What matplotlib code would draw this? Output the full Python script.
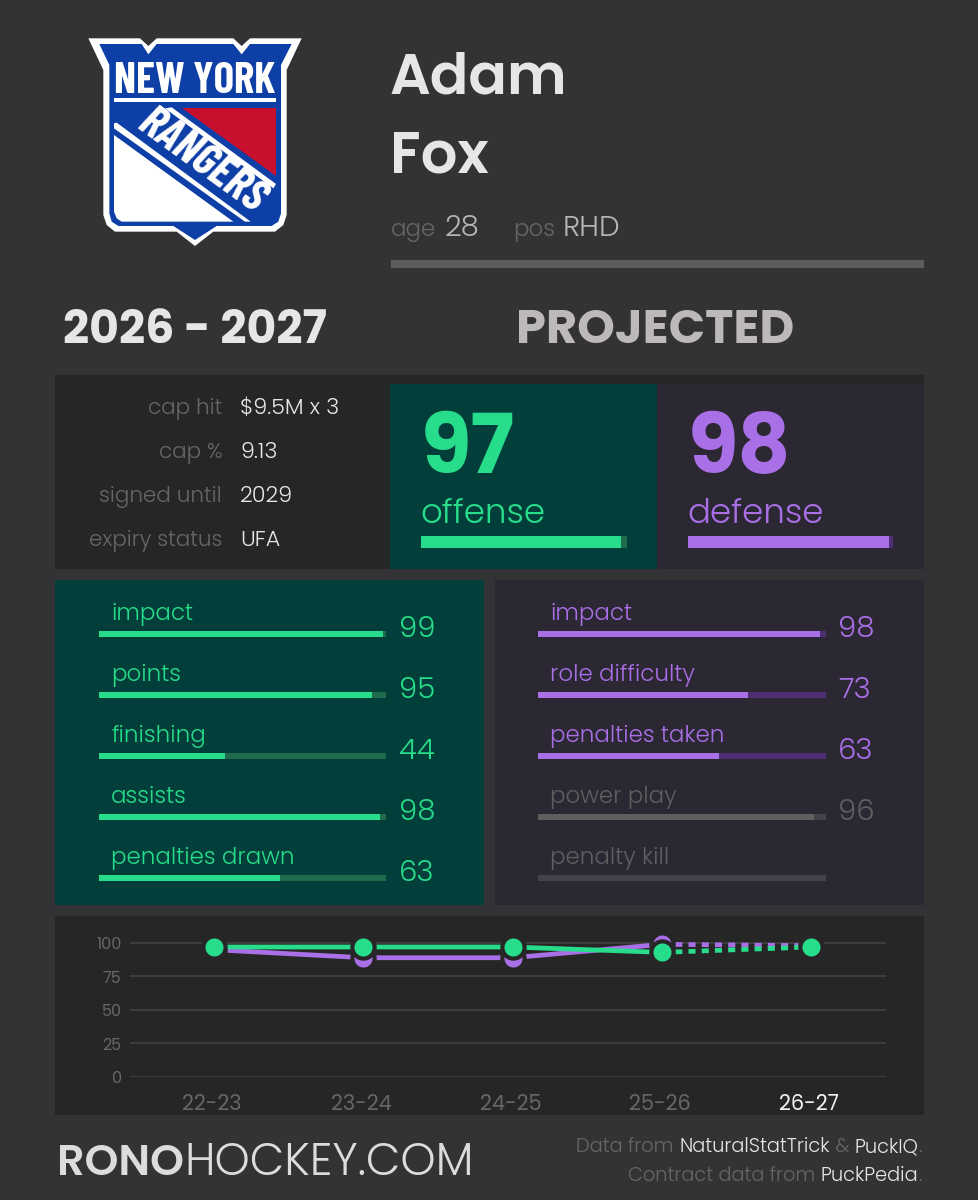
import matplotlib
matplotlib.use("Agg")
import matplotlib.pyplot as plt
from matplotlib.patches import Polygon, Rectangle
from matplotlib.transforms import ScaledTranslation

plt.rcParams["font.family"] = ["Poppins", "Inter", "DejaVu Sans"]
LOGO_FONT = ["Barlow Condensed", "Liberation Sans Narrow", "Inter"]

W, H = 978, 1200
BG = "#333336"
DARK = "#262626"
OFF_BG = "#023f3a"
DEF_BG = "#2b2733"
GREEN = "#27dc8a"
PURPLE = "#a96fe6"
GREY = "#666666"
LIGHT = "#e6e6e6"

first_name = "Adam"
last_name = "Fox"
age = "28"
position = "RHD"
season = "2026 - 2027"
status = "PROJECTED"

contract_labels = ["cap hit", "cap %", "signed until", "expiry status"]
contract_values = ["$9.5M x 3", "9.13", "2029", "UFA"]

offense_total = 97
defense_total = 98

offense_labels = ["impact", "points", "finishing", "assists", "penalties drawn"]
offense_values = [99, 95, 44, 98, 63]
defense_labels = ["impact", "role difficulty", "penalties taken", "power play", "penalty kill"]
defense_values = [98, 73, 63, 96, None]

seasons = ["22-23", "23-24", "24-25", "25-26", "26-27"]
offense_trend = [97, 97, 97, 93, 97]
defense_trend = [95, 89, 89, 99, 98]
y_ticks = [0, 25, 50, 75, 100]

fig = plt.figure(figsize=((W + 0.01) / 100, (H + 0.01) / 100), dpi=100, facecolor=BG)
bg = fig.add_axes([0, 0, 1, 1])
bg.set_xlim(0, W)
bg.set_ylim(H, 0)
bg.axis("off")


def panel(x0, y0, x1, y1, color):
    bg.add_patch(Rectangle((x0, y0), x1 - x0, y1 - y0, color=color, lw=0))


def label(x, y, s, color, size, weight=300, ha="left", va="center", **kw):
    return bg.text(x, y, s, color=color, fontsize=size, fontweight=weight, ha=ha, va=va, **kw)


def meter(x0, y0, x1, y1, value, color, track):
    # each meter is its own little 0-100 axes
    ax = fig.add_axes([x0 / W, 1 - y1 / H, (x1 - x0) / W, (y1 - y0) / H])
    ax.set_xlim(0, 100)
    ax.set_ylim(0, 1)
    ax.axis("off")
    ax.barh(0.5, 100, height=1, color=track, lw=0)
    if value is not None:
        ax.barh(0.5, value, height=1, color=color, lw=0)


def text_runs(x_right, y, runs, size):
    # lay out multi-coloured text from right to left
    renderer = fig.canvas.get_renderer()
    x = x_right
    for s, color in reversed(runs):
        t = label(x, y, s, color, size, ha="right", va="baseline")
        x -= t.get_window_extent(renderer).width


def logo():
    ox, oy = 70, 20

    def pts(raw):
        return [(ox + a / 3, oy + b / 3) for a, b in raw]

    blue = "#0d3fa6"
    red = "#c8102e"
    outer = [(55, 55), (210, 55), (235, 78), (260, 55), (490, 55), (515, 78), (540, 55), (695, 55),
             (650, 150), (650, 585), (640, 615), (615, 635), (430, 635), (375, 678), (320, 635),
             (135, 635), (110, 615), (100, 585), (100, 150)]
    inner = [(88, 72), (215, 72), (235, 103), (260, 72), (490, 72), (515, 103), (540, 72), (665, 72),
             (633, 135), (633, 580), (625, 605), (605, 618), (440, 618), (375, 660), (310, 618),
             (145, 618), (125, 605), (118, 580), (118, 135)]
    bg.add_patch(Polygon(pts(outer), color="white", lw=0))
    bg.add_patch(Polygon(pts(inner), color=blue, lw=0))
    bg.add_patch(Polygon(pts([(132, 233), (618, 233), (618, 246), (132, 246)]), color="white", lw=0))
    bg.add_patch(Polygon(pts([(335, 263), (618, 263), (618, 468)]), color=red, lw=0))
    bg.add_patch(Polygon(pts([(285, 265), (305, 262), (618, 492), (610, 505)]), color="white", lw=0))
    bg.add_patch(Polygon(pts([(132, 310), (140, 308), (542, 605), (525, 605), (132, 325)]), color="white", lw=0))
    bg.add_patch(Polygon(pts([(132, 345), (490, 605), (155, 605), (140, 595), (132, 575)]), color="white", lw=0))
    bg.text(ox + 375 / 3, oy + 220 / 3, "NEW YORK", color="white", fontsize=31, fontweight="bold",
            family=LOGO_FONT, ha="center", va="baseline")
    bg.text(ox + 398 / 3, oy + 425 / 3, "RANGERS", color="white", fontsize=33, fontweight="bold",
            family=LOGO_FONT, ha="center", va="center", rotation=-36,
            rotation_mode="anchor", style="italic")


logo()

# header
label(390, 93, first_name, LIGHT, 41, "semibold", va="baseline")
label(390, 172, last_name, LIGHT, 41.5, "semibold", va="baseline")
label(391, 236, "age", GREY, 16.5, va="baseline")
label(444, 236, age, "#b5b5b5", 21, va="baseline")
label(513, 236, "pos", GREY, 16.5, va="baseline")
label(563, 236, position, "#b5b5b5", 21, va="baseline")
panel(391, 260, 924, 268, "#5c5c5c")

label(195, 343, season, LIGHT, 33, "bold", ha="center", va="baseline")
label(655, 343, status, "#bdb9b9", 34.5, "bold", ha="center", va="baseline")

# contract + totals
panel(55, 375, 924, 569, DARK)
panel(390, 384, 657, 569, OFF_BG)
panel(657, 384, 924, 569, DEF_BG)
for y, name, val in zip([409, 453, 497, 541], contract_labels, contract_values):
    label(222, y, name, GREY, 15.5, ha="right")
    label(240, y, val, LIGHT, 16)

label(421, 473, str(offense_total), GREEN, 59, "bold", va="baseline")
label(688, 473, str(defense_total), PURPLE, 59, "bold", va="baseline")
label(420, 523, "offense", GREEN, 24.5, va="baseline")
label(687, 523, "defense", PURPLE, 24.5, va="baseline")
meter(421, 536, 627, 548, offense_total, GREEN, "#1e6b4d")
meter(688, 536, 893, 548, defense_total, PURPLE, "#4e2f73")

# breakdown panels
panel(55, 580, 484, 905, OFF_BG)
panel(495, 580, 924, 905, DEF_BG)
rows = [613, 674, 735, 796, 857]
for y, name, val in zip(rows, offense_labels, offense_values):
    label(111, y + 1, name, GREEN, 16.5)
    meter(99, y + 18, 386, y + 24, val, GREEN, "#1e6b4d")
    label(399, y + 17, str(val), GREEN, 21)
for i, (y, name, val) in enumerate(zip(rows, defense_labels, defense_values)):
    on = i < 3
    color = PURPLE if on else "#5f5f5f"
    track = "#4e2f73" if on else "#45434a"
    label(550, y + 1, name, color, 16.5)
    meter(538, y + 18, 826, y + 24, val, color, track)
    if val is not None:
        label(838, y + 17, str(val), color, 21)

# trend chart
panel(55, 916, 924, 1115, DARK)
ax = fig.add_axes([130 / W, 1 - 1077 / H, (886 - 130) / W, (1077 - 930) / H])
ax.patch.set_alpha(0)
ax.set_xlim(-0.564, 4.5)
ax.set_ylim(0, 147 / 1.34)
x = list(range(len(seasons)))
halo = dict(marker="o", ms=16, mew=3, mec=DARK, ls="none", clip_on=False)
for series, color in [(defense_trend, PURPLE), (offense_trend, GREEN)]:
    ax.plot(x[:4], series[:4], color=color, lw=3.4, solid_capstyle="butt", clip_on=False)
    ax.plot(x[3:], series[3:], color=color, lw=3.4, dashes=(1.5, 1.3), clip_on=False)
    ax.plot(x, series, color=color, **halo)
ax.set_yticks(y_ticks)
ax.set_xticks(x)
ax.set_xticklabels(seasons)
ax.tick_params(length=0)
ax.tick_params(axis="y", labelsize=11.5, labelcolor=GREY, pad=6)
ax.tick_params(axis="x", labelsize=15, labelcolor=GREY, pad=12)
shift = ScaledTranslation(-2 / 100, 0, fig.dpi_scale_trans)
for t in ax.get_xticklabels():
    t.set_transform(t.get_transform() + shift)
ax.get_xticklabels()[-1].set_color("#f2f2f2")
ax.grid(axis="y", color="#3c3c3f", lw=1.5)
ax.set_axisbelow(True)
for s in ax.spines.values():
    s.set_visible(False)

# footer
brand = label(57, 1175, "RONO", "#dcdcdc", 31, "semibold", va="baseline")
fig.canvas.draw()
brand_w = brand.get_window_extent(fig.canvas.get_renderer()).width
label(57 + brand_w, 1175, "HOCKEY.COM", "#dcdcdc", 32.3, va="baseline")
text_runs(922, 1152, [("Data from ", GREY), ("NaturalStatTrick", LIGHT), (" & ", GREY), ("PuckIQ", LIGHT), (".", GREY)], 14)
text_runs(922, 1181, [("Contract data from ", GREY), ("PuckPedia", LIGHT), (".", GREY)], 14)

fig.savefig("out.png", dpi=100, facecolor=BG)
